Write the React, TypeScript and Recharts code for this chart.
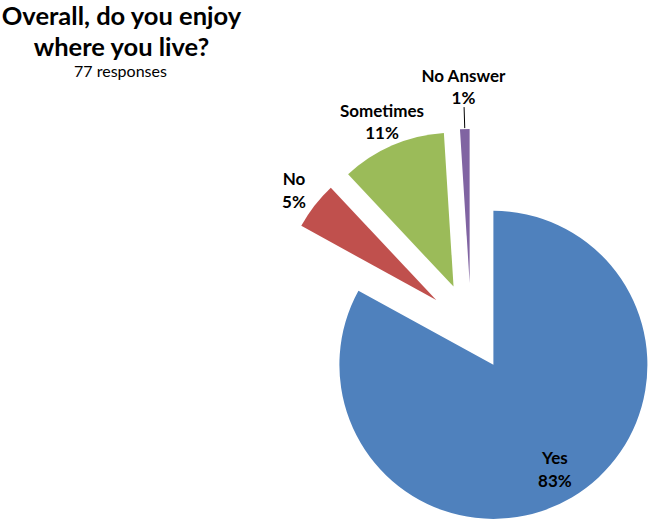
import React from 'react';
import { PieChart, Pie, Cell, Sector } from 'recharts';

const categories = ['Yes', 'No', 'Sometimes', 'No Answer'];
const shares = [83, 5, 11, 1];
const colors = ['#4F81BD', '#C0504D', '#9BBB59', '#8064A2'];

const title = ['Overall, do you enjoy', 'where you live?'];
const subtitle = '77 responses';

const data = categories.map((name, i) => ({ name, value: shares[i] }));

const RADIAN = Math.PI / 180;
const EXPLODE = 44;
const FONT = 'Lato, "Open Sans", sans-serif';

const shift = (angle: number, dist: number) => ({
  dx: dist * Math.cos(-angle * RADIAN),
  dy: dist * Math.sin(-angle * RADIAN),
});

const ExplodedSector = (props: any) => {
  const { cx, cy, midAngle, innerRadius, outerRadius, startAngle, endAngle, fill } = props;
  const { dx, dy } = shift(midAngle, EXPLODE);
  return (
    <Sector
      cx={cx + dx}
      cy={cy + dy}
      innerRadius={innerRadius}
      outerRadius={outerRadius}
      startAngle={startAngle}
      endAngle={endAngle}
      fill={fill}
      stroke="none"
    />
  );
};

const renderLabel = (props: any) => {
  const { cx, cy, midAngle, outerRadius, percent, index, value, name } = props;
  const { dx, dy } = shift(midAngle, EXPLODE);
  const ecx = cx + dx;
  const ecy = cy + dy;
  const dir = shift(midAngle, 1);
  let r = outerRadius + 26;
  let leader = null;
  if (percent > 0.5) {
    r = outerRadius * 0.785;
  } else if (percent < 0.02) {
    r = outerRadius + 43;
    leader = (
      <line
        x1={ecx + dir.dx * (outerRadius + 1)}
        y1={ecy + dir.dy * (outerRadius + 1)}
        x2={ecx + dir.dx * (outerRadius + 22)}
        y2={ecy + dir.dy * (outerRadius + 22)}
        stroke="#000"
        strokeWidth={1}
      />
    );
  }
  const x = ecx + dir.dx * r;
  const y = ecy + dir.dy * r;
  return (
    <g key={`label-${index}`}>
      {leader}
      <text
        x={x}
        y={y}
        textAnchor="middle"
        fill="#000"
        fontFamily={FONT}
        fontWeight="bold"
        fontSize={17}
      >
        <tspan x={x} y={y - 11} dominantBaseline="central">{name}</tspan>
        <tspan x={x} y={y + 11.5} dominantBaseline="central">{`${value}%`}</tspan>
      </text>
    </g>
  );
};

const centered: React.CSSProperties = {
  position: 'absolute',
  left: 121.5,
  transform: 'translateX(-50%)',
  whiteSpace: 'nowrap',
  textAlign: 'center',
  fontFamily: FONT,
  color: '#000',
};

export default function App() {
  return (
    <div style={{ position: 'absolute', left: 0, top: 0, width: 649, height: 521, background: '#fff' }}>
      <div style={{ ...centered, top: 0, fontWeight: 'bold', fontSize: 25.5, lineHeight: '31px' }}>
        {title.map((t) => (
          <div key={t}>{t}</div>
        ))}
      </div>
      <div style={{ ...centered, left: 120.5, top: 63, fontSize: 16, lineHeight: '16px' }}>{subtitle}</div>
      <div style={{ position: 'absolute', left: 0, top: 0 }}>
        <PieChart width={649} height={521} margin={{ top: 0, right: 0, bottom: 0, left: 0 }}>
          <Pie
            data={data}
            dataKey="value"
            nameKey="name"
            cx={471}
            cy={327}
            outerRadius={154}
            startAngle={90}
            endAngle={-270}
            stroke="none"
            shape={ExplodedSector}
            label={renderLabel}
            labelLine={false}
            isAnimationActive={false}
          >
            {data.map((d, i) => (
              <Cell key={d.name} fill={colors[i]} />
            ))}
          </Pie>
        </PieChart>
      </div>
    </div>
  );
}
